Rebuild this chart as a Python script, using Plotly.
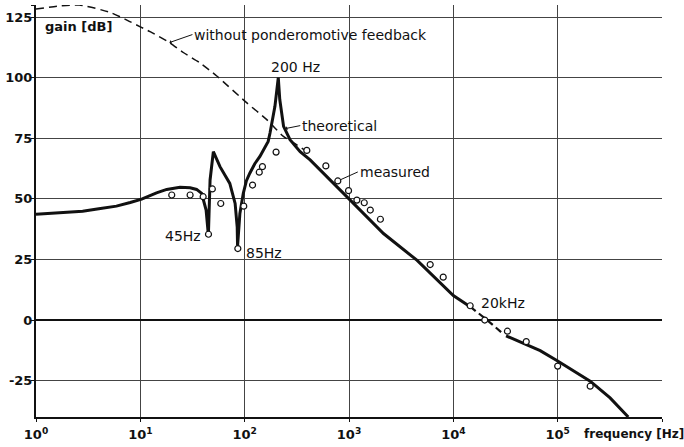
import numpy as np
import plotly.graph_objects as go

# ---- data ----
# theoretical curve (solid), low/mid frequency part
theo_f = [1, 1.4, 2, 2.8, 4, 5.9, 8, 10.3, 14.3, 17.9, 24, 30, 34.6, 38.7, 42.7, 44.9, 46.6, 50.1,
          58, 72, 81, 84.8, 85.5, 90, 97, 104, 112, 125, 140, 151, 168, 175, 195, 210, 217, 236,
          272, 340, 424, 1000, 2140, 4500, 10000, 14500]
theo_db = [43.7, 44.0, 44.4, 44.9, 45.9, 47.0, 48.5, 49.9, 52.5, 53.9, 54.8, 54.6, 53.9, 52.3, 45.4, 35.0,
           57.8, 69.5, 63.3, 56.4, 48.1, 38.4, 30.5, 44.0, 52.3, 57.5, 60.6, 64.5, 67.5, 70.0, 73.7,
           77.2, 88.2, 100.0, 91.0, 79.9, 74.4, 69.5, 66.1, 50.0, 35.7, 24.6, 10.1, 5.5]
# theoretical curve, dashed piece around 20 kHz
theo_dash_f = [14500, 20000, 29000]
theo_dash_db = [5.5, 0.8, -5.1]
# theoretical curve, high frequency part
theo_hi_f = [32000, 50000, 68000, 100000, 152000, 205000, 318000, 475000]
theo_hi_db = [-6.5, -10.0, -12.6, -16.9, -21.7, -25.2, -32.1, -40.0]

# without ponderomotive feedback (dashed)
nofb_f = [1, 1.6, 2.6, 5.1, 7.1, 10, 12.4, 19, 25.8, 37, 54, 105, 163, 235, 316, 394]
nofb_db = [128.3, 129.5, 130.0, 127.0, 124.2, 121.0, 119.0, 114.5, 110.4, 106.2, 100.7, 89.6, 82.7, 75.8, 72.3, 69.5]

# measured points
meas_f = [20, 30, 40, 45, 49, 59, 86, 98, 119, 138, 148, 200, 394, 600, 781, 990, 1190, 1400, 1600, 2000,
          6000, 8000, 14500, 20000, 33000, 50000, 100000, 205000]
meas_db = [51.6, 51.6, 50.9, 35.4, 54.1, 48.1, 29.5, 47.0, 55.7, 61.0, 63.3, 69.3, 70.0, 63.6, 57.4, 53.4, 49.5,
           48.4, 45.4, 41.6, 22.9, 17.7, 5.9, 0.0, -4.6, -8.9, -19.0, -27.3]

x_tickvals = [1, 10, 100, 1000, 10000, 100000, 1000000]
x_ticktext = ["10<sup>0</sup>", "10<sup>1</sup>", "10<sup>2</sup>", "10<sup>3</sup>",
              "10<sup>4</sup>", "10<sup>5</sup>", " "]
y_tickvals = [-25, 0, 25, 50, 75, 100, 125, 130]
y_ticktext = ["-25", "0", "25", "50", "75", "100", "125", " "]

FONT = "DejaVu Sans"
INK = "#111111"

fig = go.Figure()
fig.add_trace(go.Scatter(x=nofb_f, y=nofb_db, mode="lines",
                         line=dict(color=INK, width=1.5, dash="8px,5px", shape="spline", smoothing=0.6),
                         hoverinfo="skip", showlegend=False))
fig.add_trace(go.Scatter(x=theo_f, y=theo_db, mode="lines",
                         line=dict(color=INK, width=3), showlegend=False))
fig.add_trace(go.Scatter(x=theo_dash_f, y=theo_dash_db, mode="lines",
                         line=dict(color=INK, width=2.2, dash="7px,4px"), showlegend=False))
fig.add_trace(go.Scatter(x=theo_hi_f, y=theo_hi_db, mode="lines",
                         line=dict(color=INK, width=3), showlegend=False))
fig.add_trace(go.Scatter(x=meas_f, y=meas_db, mode="markers",
                         marker=dict(symbol="circle", size=6, color="white",
                                     line=dict(color=INK, width=1.2)),
                         showlegend=False))

lf = lambda v: float(np.log10(v))
tf = dict(family=FONT, size=14, color=INK)

annotations = [
    dict(x=0.011, y=0.947, xref="paper", yref="paper", text="gain [dB]", showarrow=False,
         xanchor="left", yanchor="middle", font=dict(family=FONT, size=13, color=INK, weight="bold")),
    dict(x=0.872, y=-0.041, xref="paper", yref="paper", text="frequency [Hz]", showarrow=False,
         xanchor="left", yanchor="middle", font=dict(family=FONT, size=12, color=INK, weight="bold")),
    dict(x=lf(19), y=114.5, xref="x", yref="y", text="without ponderomotive feedback",
         showarrow=True, ax=23, ay=-8, xanchor="left", yanchor="middle",
         arrowhead=1, arrowsize=0.7, arrowwidth=1, arrowcolor=INK, font=tf),
    dict(x=lf(210), y=100, xref="x", yref="y", text="200 Hz", showarrow=False,
         xanchor="center", yanchor="bottom", xshift=17, yshift=1, font=tf),
    dict(x=lf(245), y=79, xref="x", yref="y", text="theoretical",
         showarrow=True, ax=15, ay=-3, xanchor="left", yanchor="middle",
         arrowhead=1, arrowsize=0.7, arrowwidth=1, arrowcolor=INK, font=tf),
    dict(x=lf(781), y=57.4, xref="x", yref="y", text="measured",
         showarrow=True, ax=20, ay=-9, xanchor="left", yanchor="middle", standoff=3,
         arrowhead=0, arrowwidth=1, arrowcolor=INK, font=tf),
    dict(x=lf(45), y=35.4, xref="x", yref="y", text="45Hz", showarrow=False,
         xanchor="right", yanchor="middle", xshift=-5, yshift=-2, font=tf),
    dict(x=lf(86), y=29.5, xref="x", yref="y", text="85Hz", showarrow=False,
         xanchor="left", yanchor="middle", xshift=6, yshift=-4, font=tf),
    dict(x=lf(14500), y=5.9, xref="x", yref="y", text="20kHz", showarrow=False,
         xanchor="left", yanchor="middle", xshift=9, yshift=3, font=tf),
]

fig.update_layout(
    width=684, height=447,
    margin=dict(l=36, r=22, t=5, b=30, pad=0),
    paper_bgcolor="white", plot_bgcolor="white",
    font=dict(family=FONT, color=INK),
    annotations=annotations,
    xaxis=dict(type="log", range=[0, 6], tickvals=x_tickvals, ticktext=x_ticktext,
               automargin=False, ticklabelstandoff=2,
               showgrid=True, gridcolor="#444444", gridwidth=1,
               showline=True, linecolor=INK, linewidth=1.5,
               ticks="outside", ticklen=3, tickcolor=INK,
               tickfont=dict(family=FONT, size=13, color=INK, weight="bold"), zeroline=False),
    yaxis=dict(range=[-40, 130], tickvals=y_tickvals, ticktext=y_ticktext,
               automargin=False, ticklabelstandoff=-4,
               showgrid=True, gridcolor="#444444", gridwidth=1,
               showline=True, linecolor=INK, linewidth=2,
               ticks="outside", ticklen=3, tickcolor=INK,
               zeroline=True, zerolinecolor=INK, zerolinewidth=2.2,
               tickfont=dict(family=FONT, size=13, color=INK, weight="bold")),
)

fig.write_html("out.html", config={"displayModeBar": False},
               post_script="document.body.style.margin='0';document.body.style.overflow='hidden';")
